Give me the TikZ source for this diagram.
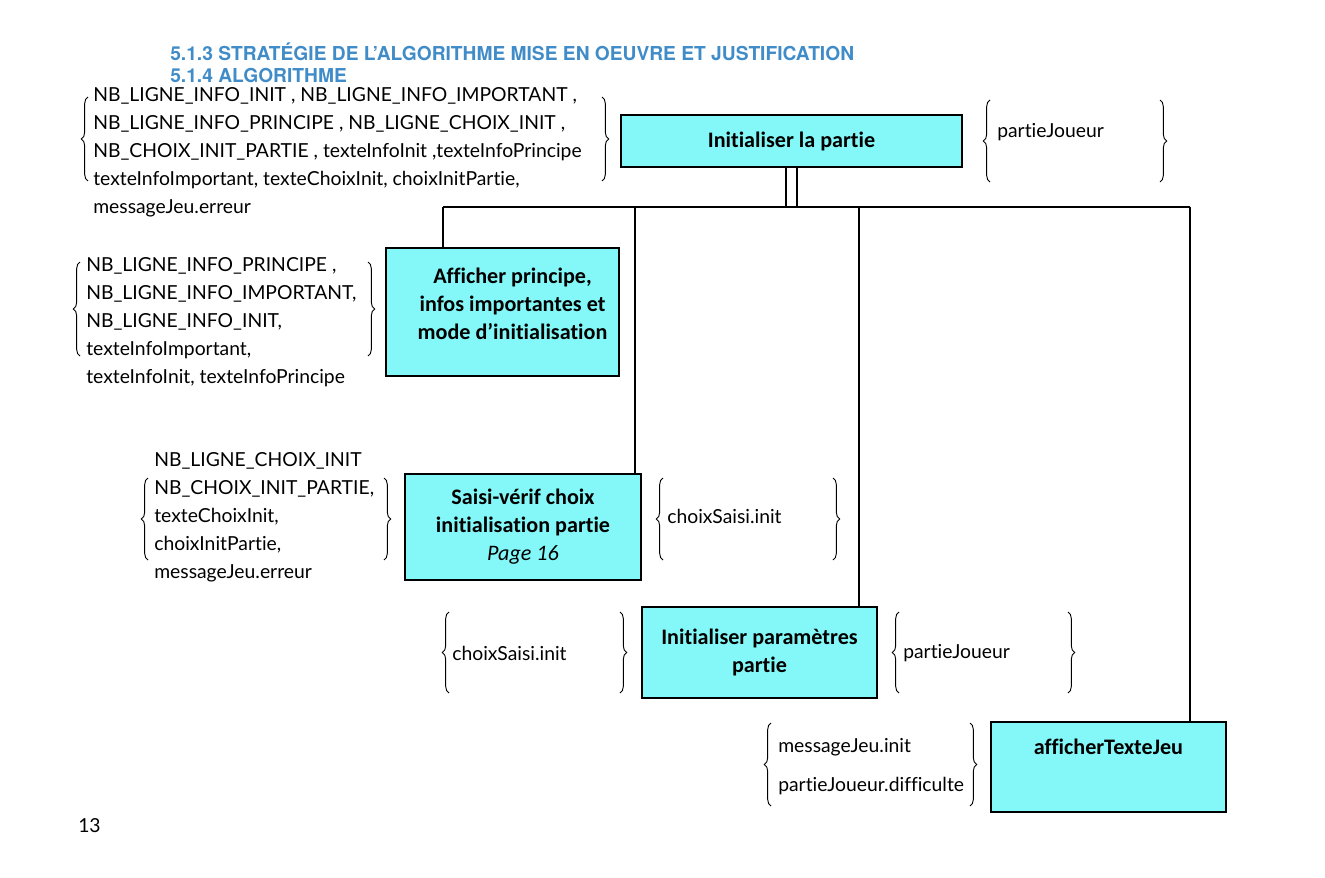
\documentclass[tikz,border=0pt]{standalone}
\usepackage{fontspec}
\setmainfont{Lato}[Ligatures={TeX,NoCommon}]
\newfontfamily\boitefont{Carlito}[Ligatures={TeX,NoCommon}]
\newfontfamily\titrefont{TeX Gyre Heros}
\usetikzlibrary{positioning}
\usetikzlibrary{decorations.pathreplacing}
\definecolor{cyanboite}{RGB}{132,248,248}
\definecolor{bleutitre}{RGB}{64,140,200}
\tikzset{
        % Boites des actions
        boite/.style={draw=black, line width=1.5pt, fill=cyanboite, align=center, inner sep=0pt,
                font=\boitefont\bfseries\fontsize{16.6}{21}\selectfont},
        % Listes de parametres
        param/.style={anchor=west, align=left, inner sep=0pt, font=\fontsize{14.5}{21}\selectfont},
        % Accolades autour des parametres
        accolade/.style={decorate, decoration={brace, amplitude=5pt, aspect=0.5}, line width=0.7pt},
        % Titres de section
        titre/.style={anchor=west, inner sep=0pt, text=bleutitre,
                font=\titrefont\bfseries\fontsize{14.4}{18}\selectfont},
        % Liens de l'arbre
        lien/.style={line width=1.5pt}
}
% accolade ouvrante en #1, fermante en #2, de #3 (haut) a #4 (bas)
\newcommand{\accolades}[4]{%
        \draw[accolade] (#1,#4) -- (#1,#3);
        \draw[accolade] (#2,#3) -- (#2,#4);
}

\begin{document}
\begin{tikzpicture}[x=0.75pt, y=-0.75pt]
        \useasboundingbox (0,0) rectangle (1325,878);

        \node[titre] (t513) at (170,52) {5.1.3 STRATÉGIE DE L’ALGORITHME MISE EN OEUVRE ET JUSTIFICATION};
        \node[titre] (t514) at (170,76) {5.1.4 ALGORITHME};

        % Actions
        \node[boite, minimum width=255.75pt, minimum height=39pt] (init) at (791.5,141) {Initialiser la partie};
        \node[boite, minimum width=174.75pt, minimum height=96pt] (affich) at (502.5,312)
                {\hspace*{15pt}Afficher principe,\\\hspace*{15pt}infos importantes et\\\hspace*{15pt}mode d’initialisation\\[-9pt]\mbox{}};
        \node[boite, minimum width=177pt, minimum height=79.5pt] (saisi) at (523,527)
                {Saisi-vérif choix\\initialisation partie\\{\mdseries\itshape Page 16}};
        \node[boite, minimum width=176.25pt, minimum height=68.25pt] (initparam) at (759.5,652.5)
                {Initialiser paramètres\\partie};
        \node[boite, minimum width=176.25pt, minimum height=67.5pt] (texte) at (1108.5,767)
                {afficherTexteJeu\\[9pt]\mbox{}};

        % Arbre
        \coordinate (bus-g) at (443,207);
        \coordinate (bus-a) at (635,207);
        \coordinate (bus-b) at (859,207);
        \coordinate (bus-d) at (1190,207);
        \draw[lien] ([xshift=-4.1pt]init.south) -- ([xshift=-4.1pt]init.south |- bus-g);
        \draw[lien] ([xshift=4.1pt]init.south) -- ([xshift=4.1pt]init.south |- bus-g);
        \draw[lien] (bus-g) -- (bus-d);
        \draw[lien] (bus-g) -- (bus-g |- affich.north);
        \draw[lien] (bus-a) -- (bus-a |- saisi.north);
        \draw[lien] (bus-b) -- (bus-b |- initparam.north);
        \draw[lien] (bus-d) -- (bus-d |- texte.north);

        % Parametres
        \node[param] (e-init) at (93,152) {NB\_LIGNE\_INFO\_INIT , NB\_LIGNE\_INFO\_IMPORTANT ,\\
                NB\_LIGNE\_INFO\_PRINCIPE , NB\_LIGNE\_CHOIX\_INIT ,\\
                NB\_CHOIX\_INIT\_PARTIE , texteInfoInit ,texteInfoPrincipe\\
                texteInfoImportant, texteChoixInit, choixInitPartie,\\
                messageJeu.erreur};
        \node[param] (s-init) at (997,132) {partieJoueur};
        \node[param] (e-affich) at (86,322) {NB\_LIGNE\_INFO\_PRINCIPE ,\\
                NB\_LIGNE\_INFO\_IMPORTANT,\\
                NB\_LIGNE\_INFO\_INIT,\\
                texteInfoImportant,\\
                texteInfoInit, texteInfoPrincipe};
        \node[param] (e-saisi) at (154,517.5) {NB\_LIGNE\_CHOIX\_INIT\\
                NB\_CHOIX\_INIT\_PARTIE,\\
                texteChoixInit,\\
                choixInitPartie,\\
                messageJeu.erreur};
        \node[param] (s-saisi) at (667,516) {choixSaisi.init};
        \node[param] (e-initparam) at (452,653) {choixSaisi.init};
        \node[param] (s-initparam) at (903,653) {partieJoueur};
        \node[param] (e-texte) at (778,766.5) {messageJeu.init\\[8pt]partieJoueur.difficulte};
        \node[param] (page) at (78,826) {13};

        \accolades{88}{602}{97}{181}
        \accolades{990}{1160}{100}{182}
        \accolades{80}{368}{262}{356}
        \accolades{148}{384}{478}{560}
        \accolades{663}{833}{478}{560}
        \accolades{449}{620}{612}{693}
        \accolades{899}{1068}{612}{693}
        \accolades{771}{970}{723}{806}
\end{tikzpicture}
\end{document}
